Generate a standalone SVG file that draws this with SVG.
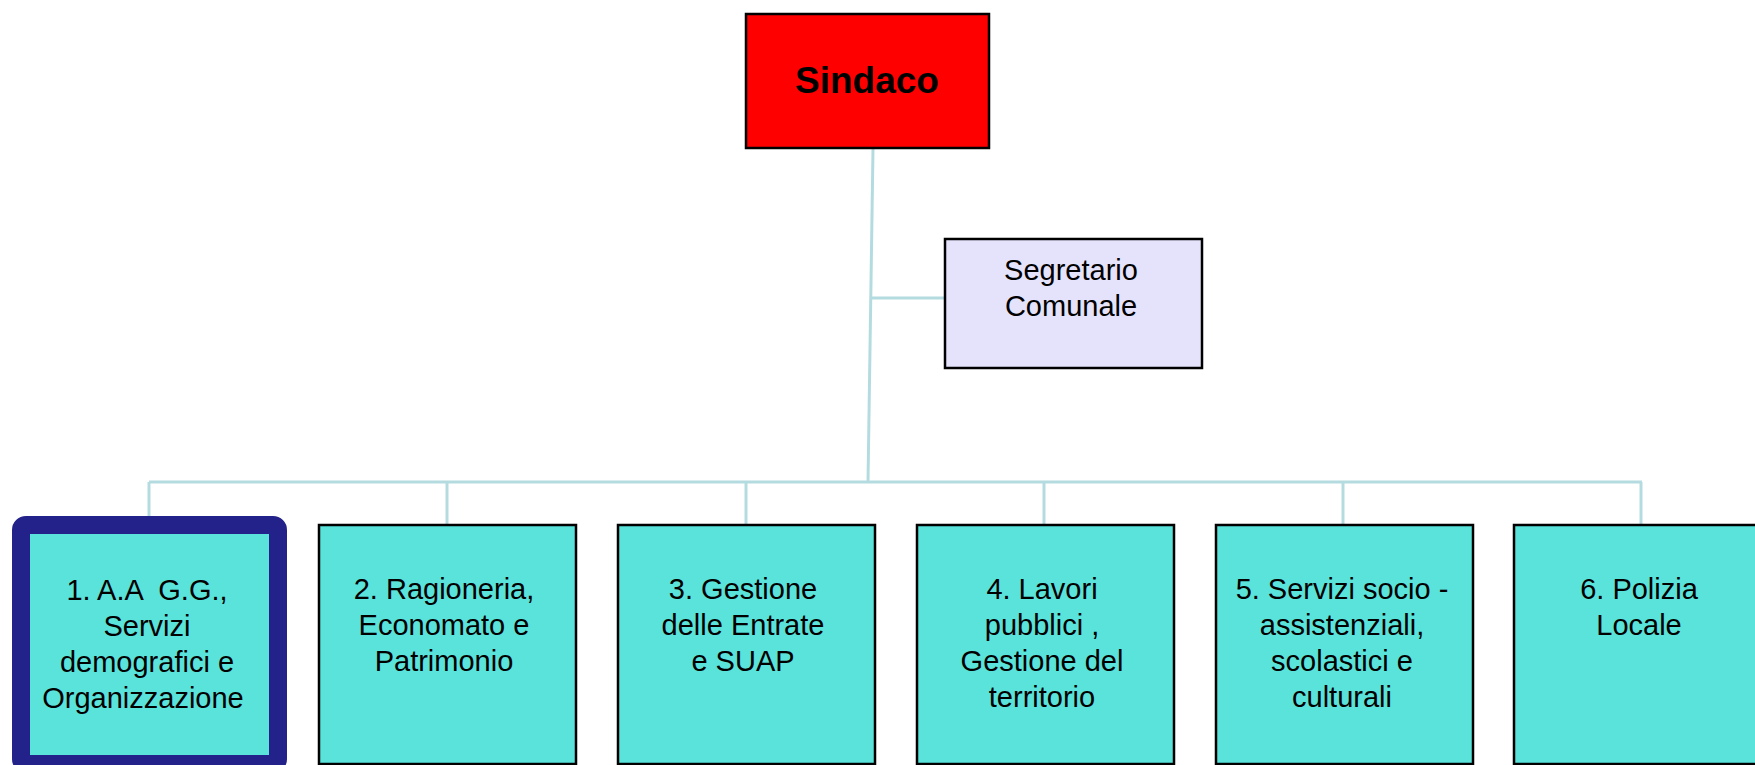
<svg xmlns="http://www.w3.org/2000/svg" width="1755" height="765" viewBox="0 0 1755 765">
<style>
.bg{fill:#ffffff}
.conn line{stroke:#B4DCE0;stroke-width:3;fill:none}
.box{stroke:#000;stroke-width:2.5}
.unit{fill:#59E3DB}
.t{font-family:"Liberation Sans",Arial,sans-serif;font-size:29px;fill:#000;text-anchor:middle;white-space:pre}
.tb{font-family:"Liberation Sans",Arial,sans-serif;font-size:37px;font-weight:bold;fill:#000;text-anchor:middle}
</style>
<rect class="bg" x="0" y="0" width="1755" height="765"/>
<g id="connectors" class="conn">
  <line x1="873" y1="149" x2="868" y2="482"/>
  <line x1="872" y1="298" x2="945" y2="298"/>
  <line x1="149" y1="482" x2="1642" y2="482"/>
  <line x1="149" y1="482" x2="149" y2="522"/>
  <line x1="447" y1="482" x2="447" y2="525"/>
  <line x1="746" y1="482" x2="746" y2="525"/>
  <line x1="1044" y1="482" x2="1044" y2="525"/>
  <line x1="1343" y1="482" x2="1343" y2="525"/>
  <line x1="1641" y1="482" x2="1641" y2="525"/>
</g>
<g id="sindaco">
  <rect class="box" x="746" y="14" width="243" height="134" fill="#FF0000"/>
  <text class="tb" x="867" y="93">Sindaco</text>
</g>
<g id="segretario">
  <rect class="box" x="945" y="239" width="257" height="129" fill="#E5E3FC"/>
  <text class="t" x="1071" y="280">Segretario</text>
  <text class="t" x="1071" y="316">Comunale</text>
</g>
<g id="unit1">
  <rect x="21" y="525" width="257" height="239" rx="5" fill="#59E3DB" stroke="#22228A" stroke-width="18"/>
  <text class="t" x="147" y="600" xml:space="preserve">1. A.A  G.G.,</text>
  <text class="t" x="147" y="636">Servizi</text>
  <text class="t" x="147" y="672">demografici e</text>
  <text class="t" x="143" y="708">Organizzazione</text>
</g>
<g id="unit2">
  <rect class="box unit" x="319" y="525" width="257" height="239"/>
  <text class="t" x="444" y="599">2. Ragioneria,</text>
  <text class="t" x="444" y="635">Economato e</text>
  <text class="t" x="444" y="671">Patrimonio</text>
</g>
<g id="unit3">
  <rect class="box unit" x="618" y="525" width="257" height="239"/>
  <text class="t" x="743" y="599">3. Gestione</text>
  <text class="t" x="743" y="635">delle Entrate</text>
  <text class="t" x="743" y="671">e SUAP</text>
</g>
<g id="unit4">
  <rect class="box unit" x="917" y="525" width="257" height="239"/>
  <text class="t" x="1042" y="599">4. Lavori</text>
  <text class="t" x="1042" y="635">pubblici ,</text>
  <text class="t" x="1042" y="671">Gestione del</text>
  <text class="t" x="1042" y="707">territorio</text>
</g>
<g id="unit5">
  <rect class="box unit" x="1216" y="525" width="257" height="239"/>
  <text class="t" x="1342" y="599">5. Servizi socio -</text>
  <text class="t" x="1342" y="635">assistenziali,</text>
  <text class="t" x="1342" y="671">scolastici e</text>
  <text class="t" x="1342" y="707">culturali</text>
</g>
<g id="unit6">
  <rect class="box unit" x="1514" y="525" width="257" height="239"/>
  <text class="t" x="1639" y="599">6. Polizia</text>
  <text class="t" x="1639" y="635">Locale</text>
</g>
</svg>
